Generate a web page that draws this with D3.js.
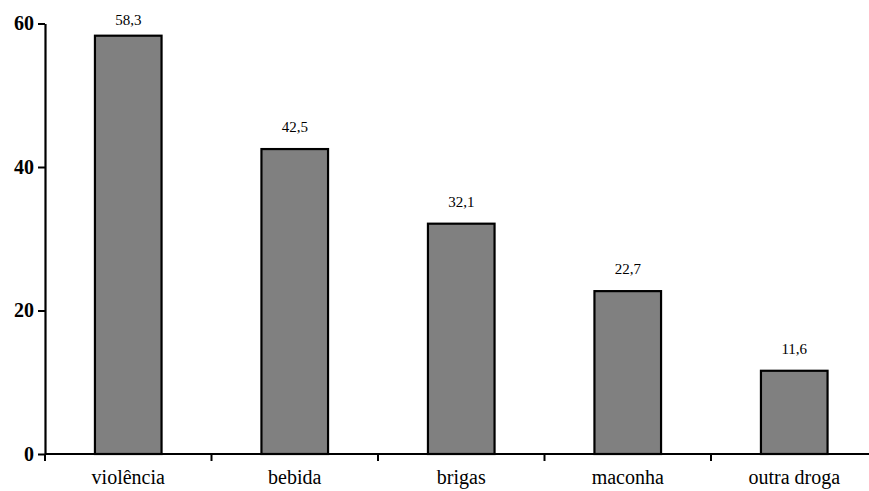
<!DOCTYPE html>
<html>
<head>
<meta charset="utf-8">
<script src="https://cdn.jsdelivr.net/npm/d3@7"></script>
<style>
  html, body { margin: 0; padding: 0; background: #fff; }
  svg { display: block; }
  svg text { font-family: "Liberation Serif", "Times New Roman", Times, serif; }
</style>
</head>
<body>
<script>
const categories = ["violência", "bebida", "brigas", "maconha", "outra droga"];
const values = [58.3, 42.5, 32.1, 22.7, 11.6];
const valueLabels = ["58,3", "42,5", "32,1", "22,7", "11,6"];
const yTicks = [0, 20, 40, 60];

const W = 869, H = 491;
const svg = d3.select("body").append("svg").attr("width", W).attr("height", H);

const x0 = 45, step = 166.5;
const x = d3.scaleBand().domain(categories)
  .range([x0, x0 + step * categories.length])
  .paddingInner(0.6).paddingOuter(0.3);
const y = d3.scaleLinear().domain([0, 60]).range([454, 23.5]);

// bars
svg.selectAll("rect.bar").data(categories).enter().append("rect")
  .attr("class", "bar")
  .attr("x", d => x(d))
  .attr("y", (d, i) => y(values[i]))
  .attr("width", x.bandwidth())
  .attr("height", (d, i) => y(0) - y(values[i]))
  .attr("fill", "#808080")
  .attr("stroke", "#000")
  .attr("stroke-width", 2.2);

// value labels
svg.selectAll("text.val").data(categories).enter().append("text")
  .attr("class", "val")
  .attr("x", d => x(d) + x.bandwidth() / 2)
  .attr("y", (d, i) => Math.max(25, y(values[i]) - 17))
  .attr("text-anchor", "middle")
  .style("font-size", "15px")
  .text((d, i) => valueLabels[i]);

// y axis
const yAxis = d3.axisLeft(y).tickValues(yTicks).tickSize(7).tickPadding(4).tickSizeOuter(0);
const gy = svg.append("g").attr("transform", `translate(${x0},0)`).call(yAxis);
gy.attr("font-family", null);
gy.select(".domain").attr("stroke", "#000").attr("stroke-width", 2.2);
gy.selectAll(".tick line").attr("stroke", "#000").attr("stroke-width", 2);
gy.selectAll(".tick text")
  .style("font-size", "20px").style("font-weight", "bold")
  .attr("fill", "#000");

// x axis
const xAxisLine = svg.append("g");
xAxisLine.append("line")
  .attr("x1", x0).attr("x2", W + 10)
  .attr("y1", y(0)).attr("y2", y(0))
  .attr("stroke", "#000").attr("stroke-width", 2.2);
const boundaries = categories.map(c => x(c) - x.step() * x.paddingOuter());
xAxisLine.selectAll("line.xt").data(boundaries).enter().append("line")
  .attr("class", "xt")
  .attr("x1", d => d).attr("x2", d => d)
  .attr("y1", y(0)).attr("y2", y(0) + 7)
  .attr("stroke", "#000").attr("stroke-width", 2);

svg.selectAll("text.cat").data(categories).enter().append("text")
  .attr("class", "cat")
  .attr("x", d => x(d) + x.bandwidth() / 2)
  .attr("y", 484)
  .attr("text-anchor", "middle")
  .style("font-size", "20px")
  .text(d => d);
</script>
</body>
</html>
